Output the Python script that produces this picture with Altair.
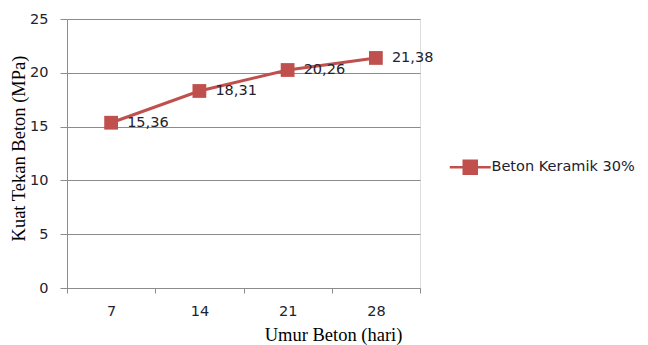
import altair as alt
import pandas as pd

umur = ["7", "14", "21", "28"]
kuat = [15.36, 18.31, 20.26, 21.38]
seri = "Beton Keramik 30%"

df = pd.DataFrame({"umur": umur, "kuat": kuat, "seri": [seri] * len(umur)})

RED = "#c0504d"
SANS = "DejaVu Sans"
SERIF = "Liberation Serif"
TXT = "#22222e"

x = alt.X("umur:N", sort=umur, title="Umur Beton (hari)",
          scale=alt.Scale(paddingInner=0, paddingOuter=0),
          axis=alt.Axis(labelAngle=0, labelFont=SANS, labelFontSize=14.5, labelColor=TXT,
                        labelPadding=11, tickSize=5, tickColor="#8c8c8c", domainColor="#8c8c8c",
                        tickBand="extent", titleFont=SERIF, titleFontSize=18.5, titleFontWeight="normal",
                        titleColor="#000000", titleX=266, titleY=52, titleAnchor="middle",
                        titleBaseline="alphabetic", grid=False))
y = alt.Y("kuat:Q", title="Kuat Tekan Beton (MPa)",
          scale=alt.Scale(domain=[0, 25], nice=False),
          axis=alt.Axis(values=[0, 5, 10, 15, 20, 25], labelFont=SANS, labelFontSize=14.5,
                        labelColor=TXT, labelPadding=12, tickSize=7, tickColor="#8c8c8c",
                        domainColor="#8c8c8c", gridColor="#8c8c8c", gridWidth=1,
                        titleFont=SERIF, titleFontSize=18.5, titleFontWeight="normal",
                        titleColor="#000000", titleX=-43, titleY=129, titleAnchor="middle",
                        titleBaseline="alphabetic"))
color = alt.Color("seri:N", scale=alt.Scale(range=[RED]),
                  legend=alt.Legend(title=None, orient="none", legendX=378, legendY=141,
                                    symbolType="M-4.1,0L4.1,0M-1.3,-1.3L1.3,-1.3L1.3,1.3L-1.3,1.3Z",
                                    symbolSize=100, symbolStrokeWidth=2.5, symbolFillColor=RED,
                                    symbolStrokeColor=RED, symbolOffset=18, labelOffset=14,
                                    labelFont=SANS, labelFontSize=14.5, labelColor=TXT))

base = alt.Chart(df)
line = base.mark_line(strokeWidth=3).encode(x=x, y=y, color=color)
pts = base.mark_square(size=190, opacity=1, filled=True).encode(x=x, y=y, color=color)
labels = base.transform_calculate(
    lab="replace(format(datum.kuat, '.2f'), '.', ',')"
).mark_text(align="left", baseline="middle", dx=16, font=SANS, fontSize=14.5,
            color=TXT).encode(x=x, y=y, text="lab:N")

chart = (line + pts + labels).properties(
    width=353, height=269,
    autosize=alt.AutoSizeParams(type="none"),
    padding={"left": 59, "top": 11, "right": 220, "bottom": 58},
).configure_view(stroke=None).configure(background="white")

chart.save("out.html", embed_options={"renderer": "svg", "actions": False})
